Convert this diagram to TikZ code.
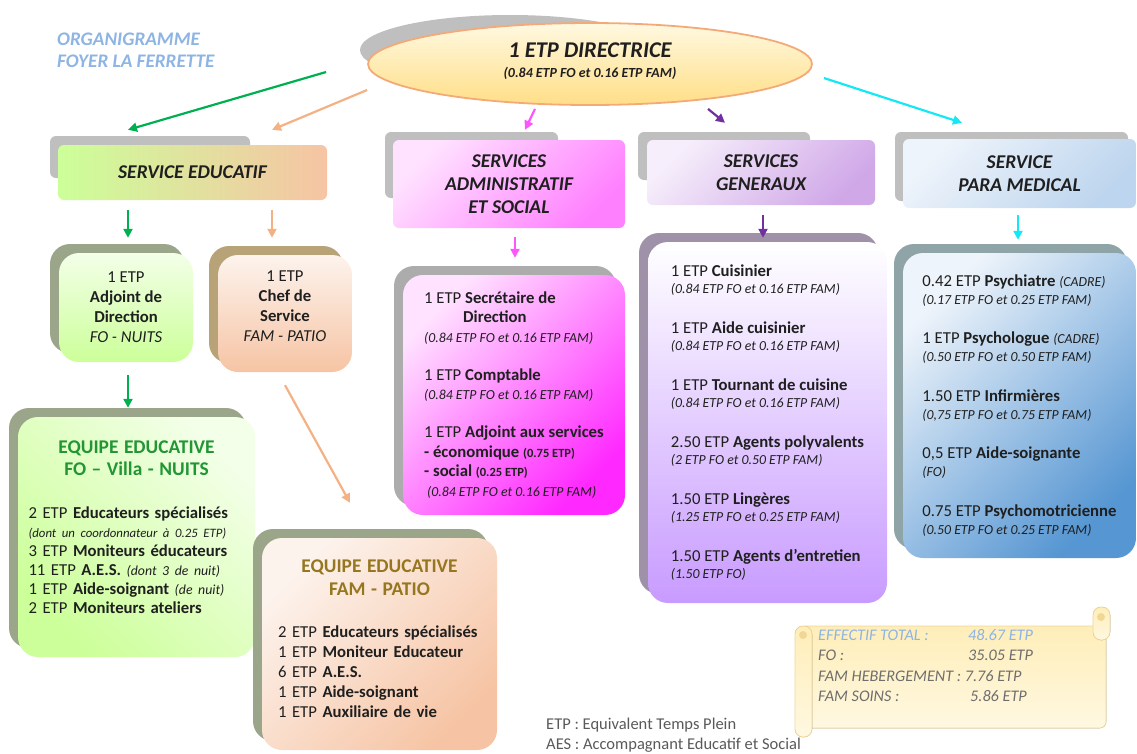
\documentclass[tikz,border=0pt]{standalone}
\usepackage{fontspec}
\setmainfont{Carlito}
\usetikzlibrary{arrows.meta,shapes.geometric,shadows}

\definecolor{titleblue}{RGB}{141,180,226}
\definecolor{dirtop}{RGB}{255,249,225}
\definecolor{dirbot}{RGB}{255,222,135}
\definecolor{dirline}{RGB}{244,170,120}
\definecolor{ogreen}{RGB}{0,176,80}
\definecolor{osalmon}{RGB}{244,177,131}
\definecolor{opink}{RGB}{255,85,255}
\definecolor{opurple}{RGB}{112,48,160}
\definecolor{ocyan}{RGB}{20,232,245}
\definecolor{lgreen}{RGB}{204,255,153}
\definecolor{lgreentop}{RGB}{243,255,232}
\definecolor{lsalmon}{RGB}{246,196,164}
\definecolor{lsalmontop}{RGB}{253,243,237}
\definecolor{pinktop}{RGB}{255,226,255}
\definecolor{pinkmid}{RGB}{255,128,255}
\definecolor{pinkbot}{RGB}{255,40,255}
\definecolor{lavtop}{RGB}{246,238,251}
\definecolor{lavmid}{RGB}{208,168,232}
\definecolor{lavbot}{RGB}{200,155,255}
\definecolor{bluetop}{RGB}{238,244,251}
\definecolor{bluemid}{RGB}{189,213,238}
\definecolor{bluebot}{RGB}{86,150,210}
\definecolor{shgray}{RGB}{191,191,191}
\definecolor{sholive}{RGB}{155,165,138}
\definecolor{shtan}{RGB}{184,163,120}
\definecolor{shmauve}{RGB}{158,145,168}
\definecolor{shslate}{RGB}{143,164,166}
\definecolor{teamgreen}{RGB}{34,150,52}
\definecolor{teamolive}{RGB}{150,118,30}
\definecolor{inkgray}{RGB}{89,89,89}
\definecolor{scrolltxt}{RGB}{110,110,110}
\definecolor{scrolltop}{RGB}{255,238,185}
\definecolor{scrollbot}{RGB}{255,248,225}
\definecolor{scrollline}{RGB}{240,215,150}

\newcommand{\smit}[1]{{\fontsize{13.8}{15}\selectfont\itshape #1}}
\newcommand{\smbf}[1]{{\fontsize{12.5}{14}\selectfont\bfseries #1}}

\begin{document}
\begin{tikzpicture}[
	x=1pt, y=-1pt,
	every node/.style={text=black!88},
	arr/.style={line width=2.2pt, -{Triangle[length=9pt,width=9pt]}},
	srv/.style={rounded corners=6pt, inner sep=0pt, align=center,
		font=\fontsize{19.5}{23}\selectfont\bfseries\itshape},
	detail/.style={rounded corners=20pt, inner sep=0pt, align=left,
		general shadow={fill=#1, shadow xshift=-9pt, shadow yshift=9pt}},
	diag/.style n args={3}{top color=#1, bottom color=#2, shading angle=#3}
	]
	\useasboundingbox (0,0) rectangle (1137,753);
	
	\node[anchor=west, inner sep=0pt, align=left, text=titleblue,
		font=\fontsize{19.2}{22}\selectfont\bfseries\itshape] (titre) at (57,50)
		{ORGANIGRAMME\\FOYER LA FERRETTE};
	
	\fill[shgray] (510,50) ellipse [x radius=150, y radius=35];
	\node[ellipse, draw=dirline, line width=1.8pt, top color=dirtop, bottom color=dirbot,
		minimum width=444pt, minimum height=82pt, inner sep=0pt, align=center,
		font=\bfseries\itshape, text depth=7pt] (dir) at (590,64)
		{{\fontsize{22.5}{22}\selectfont 1 ETP DIRECTRICE}\\[8pt]{\fontsize{13.9}{14}\selectfont (0.84 ETP FO et 0.16 ETP FAM)}};
	
	% services
	\fill[shgray, rounded corners=6pt] (50,136) rectangle (250,178);
	\fill[shgray, rounded corners=6pt] (385,132) rectangle (558,198);
	\fill[shgray, rounded corners=6pt] (638,132) rectangle (810,180);
	\fill[shgray, rounded corners=6pt] (895,132) rectangle (1128,201);
	\node[srv, minimum width=269pt, minimum height=55pt,
		left color=lgreen, right color=lsalmon] (educ) at (192.5,172.5) {SERVICE EDUCATIF};
	\node[srv, minimum width=232pt, minimum height=88pt,
		diag={pinktop}{pinkmid}{45}] (admsrv) at (509,184) {SERVICES\\ADMINISTRATIF\\ET SOCIAL};
	\node[srv, minimum width=228pt, minimum height=65pt,
		diag={lavtop}{lavmid}{45}] (gensrv) at (761,172.5) {SERVICES\\GENERAUX};
	\node[srv, minimum width=233pt, minimum height=69pt,
		diag={bluetop}{bluemid}{45}] (parasrv) at (1019.5,173.5) {SERVICE\\PARA MEDICAL};
	
	% educatif
	\node[detail=sholive, align=center, top color=lgreentop, bottom color=lgreen,
		minimum width=134pt, minimum height=109pt, font=\fontsize{16.7}{20}\selectfont]
		(adj) at (126,307.5) {1 ETP\\\textbf{Adjoint de}\\\textbf{Direction}\\\textit{FO - NUITS}};
	\node[detail=shtan, align=center, top color=lsalmontop, bottom color=lsalmon,
		minimum width=134pt, minimum height=117pt, text depth=15pt, font=\fontsize{16.7}{20}\selectfont]
		(chef) at (285,313.5) {1 ETP\\\textbf{Chef de}\\\textbf{Service}\\\textit{FAM - PATIO}};
	
	\node[detail=sholive, diag={lgreentop}{lgreen}{-45}, text width=216pt, inner xsep=10.5pt,
		minimum width=237pt, minimum height=240pt, font=\fontsize{16.7}{19}\selectfont]
		(fo) at (136.5,537) {
		\makebox[\linewidth]{\fontsize{19.4}{19}\selectfont\bfseries\color{teamgreen}EQUIPE EDUCATIVE}\\[3pt]
		\makebox[\linewidth]{\fontsize{19.4}{19}\selectfont\bfseries\color{teamgreen}FO -- Villa - NUITS}\\[24pt]
		2 ETP \textbf{Educateurs spécialisés}\\
		{\fontsize{12.8}{15}\selectfont\itshape (dont un coordonnateur à 0.25 ETP)}\\
		3 ETP \textbf{Moniteurs éducateurs}\\
		11 ETP \textbf{A.E.S.} \smit{(dont 3 de nuit)}\\
		1 ETP \textbf{Aide-soignant} \smit{(de nuit)}\\
		2 ETP \textbf{Moniteurs ateliers}\\[0pt]
		\mbox{}};
	
	\node[detail=sholive, diag={lsalmontop}{lsalmon}{45}, text width=203pt, inner xsep=16pt,
		minimum width=235pt, minimum height=212pt, font=\fontsize{16.7}{20}\selectfont]
		(fam) at (379.5,644) {
		\makebox[\linewidth]{\fontsize{19.4}{20}\selectfont\bfseries\color{teamolive}EQUIPE EDUCATIVE}\\[3pt]
		\makebox[\linewidth]{\fontsize{19.4}{20}\selectfont\bfseries\color{teamolive}FAM - PATIO}\\[22pt]
		2 ETP \textbf{Educateurs spécialisés}\\
		1 ETP \textbf{Moniteur Educateur}\\
		6 ETP \textbf{A.E.S.}\\
		1 ETP \textbf{Aide-soignant}\\
		1 ETP \textbf{Auxiliaire de vie}\\[-9pt]
		\mbox{}};
	
	% administratif
	\node[detail=shgray!90!black, diag={pinktop}{pinkbot}{45}, minimum width=222pt, minimum height=240pt,
		font=\fontsize{16.7}{19.5}\selectfont] (adm) at (514,395) {
		1 ETP \textbf{Secrétaire de}\\
		\hspace*{39pt}\textbf{Direction}\\
		\smit{(0.84 ETP FO et 0.16 ETP FAM)}\\[18.5pt]
		1 ETP \textbf{Comptable}\\
		\smit{(0.84 ETP FO et 0.16 ETP FAM)}\\[18.5pt]
		1 ETP \textbf{Adjoint aux services}\\
		\textbf{- économique} \smbf{(0.75 ETP)}\\
		\textbf{- social} \smbf{(0.25 ETP)}\\
		\hspace*{3pt}\smit{(0.84 ETP FO et 0.16 ETP FAM)}};
	
	% generaux
	\node[detail=shmauve, top color=white, bottom color=lavbot, minimum width=239pt, minimum height=361pt,
		font=\fontsize{16.7}{17}\selectfont] (gen) at (767.5,422.5) {
		1 ETP \textbf{Cuisinier}\\
		\smit{(0.84 ETP FO et 0.16 ETP FAM)}\\[23pt]
		1 ETP \textbf{Aide cuisinier}\\
		\smit{(0.84 ETP FO et 0.16 ETP FAM)}\\[23pt]
		1 ETP \textbf{Tournant de cuisine}\\
		\smit{(0.84 ETP FO et 0.16 ETP FAM)}\\[23pt]
		2.50 ETP \textbf{Agents polyvalents}\\
		\smit{(2 ETP FO et 0.50 ETP FAM)}\\[23pt]
		1.50 ETP \textbf{Lingères}\\
		\smit{(1.25 ETP FO et 0.25 ETP FAM)}\\[23pt]
		1.50 ETP \textbf{Agents d’entretien}\\
		\smit{(1.50 ETP FO)}};
	
	% para medical
	\node[detail=shslate, diag={bluetop}{bluebot}{45}, minimum width=233pt, minimum height=305pt,
		font=\fontsize{16.7}{18}\selectfont] (para) at (1019.5,405.5) {
		0.42 ETP \textbf{Psychiatre} \smit{(CADRE)}\\
		\smit{(0.17 ETP FO et 0.25 ETP FAM)}\\[21.5pt]
		1 ETP \textbf{Psychologue} \smit{(CADRE)}\\
		\smit{(0.50 ETP FO et 0.50 ETP FAM)}\\[21.5pt]
		1.50 ETP \textbf{Infirmières}\\
		\smit{(0,75 ETP FO et 0.75 ETP FAM)}\\[21.5pt]
		0,5 ETP \textbf{Aide-soignante}\\
		\smit{(FO)}\\[21.5pt]
		0.75 ETP \textbf{Psychomotricienne}\\
		\smit{(0.50 ETP FO et 0.25 ETP FAM)}};
	
	% total
	\fill[top color=scrolltop, bottom color=scrollbot, draw=scrollline, line width=0.8pt, rounded corners=6pt]
		(800,626) rectangle (1106,728);
	\fill[top color=scrolltop, bottom color=scrollbot, draw=scrollline, line width=0.8pt, rounded corners=8pt]
		(1093,607) rectangle (1110,640);
	\fill[scrollline] (1101,617) circle (4);
	\fill[top color=scrolltop, bottom color=scrollbot, draw=scrollline, line width=0.8pt, rounded corners=8pt]
		(795,626) rectangle (812,737);
	\fill[scrollline] (803,635) circle (4);
	\node[anchor=north west, inner sep=0pt, align=left, text=scrolltxt,
		font=\fontsize{16.2}{20.5}\selectfont\itshape] (total) at (818,629) {
		{\color{titleblue}\makebox[150pt][l]{EFFECTIF TOTAL :}48.67 ETP}\\
		\makebox[150pt][l]{FO :}35.05 ETP\\
		FAM HEBERGEMENT : 7.76 ETP\\
		\makebox[152pt][l]{FAM SOINS :}5.86 ETP};
	
	\node[anchor=west, inner sep=0pt, align=left, text=inkgray,
		font=\fontsize{16.5}{20}\selectfont] (legende) at (546,735)
		{ETP : Equivalent Temps Plein\\AES : Accompagnant Educatif et Social};
	
	% arrows
	\draw[arr, ogreen] ([shift={(-41,8)}]dir.west) -- ([shift={(-64.5,-15)}]educ.north);
	\draw[arr, osalmon] ([shift={(0,26)}]dir.west) -- ([shift={(79.5,-15)}]educ.north);
	\draw[arr, opink] ([shift={(-55,3)}]dir.south) -- ([shift={(16,-10)}]admsrv.north);
	\draw[arr, opurple] ([shift={(118,3)}]dir.south) -- ([shift={(-36,-17)}]gensrv.north);
	\draw[arr, ocyan] ([shift={(11,14)}]dir.east) -- ([shift={(-57.5,-16)}]parasrv.north);
	
	\draw[arr, ogreen] ([shift={(-64.5,10)}]educ.south) -- ([shift={(2,-15)}]adj.north);
	\draw[arr, osalmon] ([shift={(79.5,10)}]educ.south) -- ([shift={(-13,-17)}]chef.north);
	\draw[arr, opink] ([shift={(6,9)}]admsrv.south) -- ([shift={(1,-17)}]adm.north);
	\draw[arr, opurple] ([shift={(2,10)}]gensrv.south) -- ([shift={(-4.5,-4)}]gen.north);
	\draw[arr, ocyan] ([shift={(-1.5,7)}]parasrv.south) -- ([shift={(-1.5,-13)}]para.north);
	
	\draw[arr, ogreen] ([shift={(2,13)}]adj.south) -- ([shift={(-8.5,-9)}]fo.north);
	\draw[arr, osalmon] ([shift={(0,13)}]chef.south) -- ([shift={(-29.5,-35)}]fam.north);
	
\end{tikzpicture}
\end{document}
